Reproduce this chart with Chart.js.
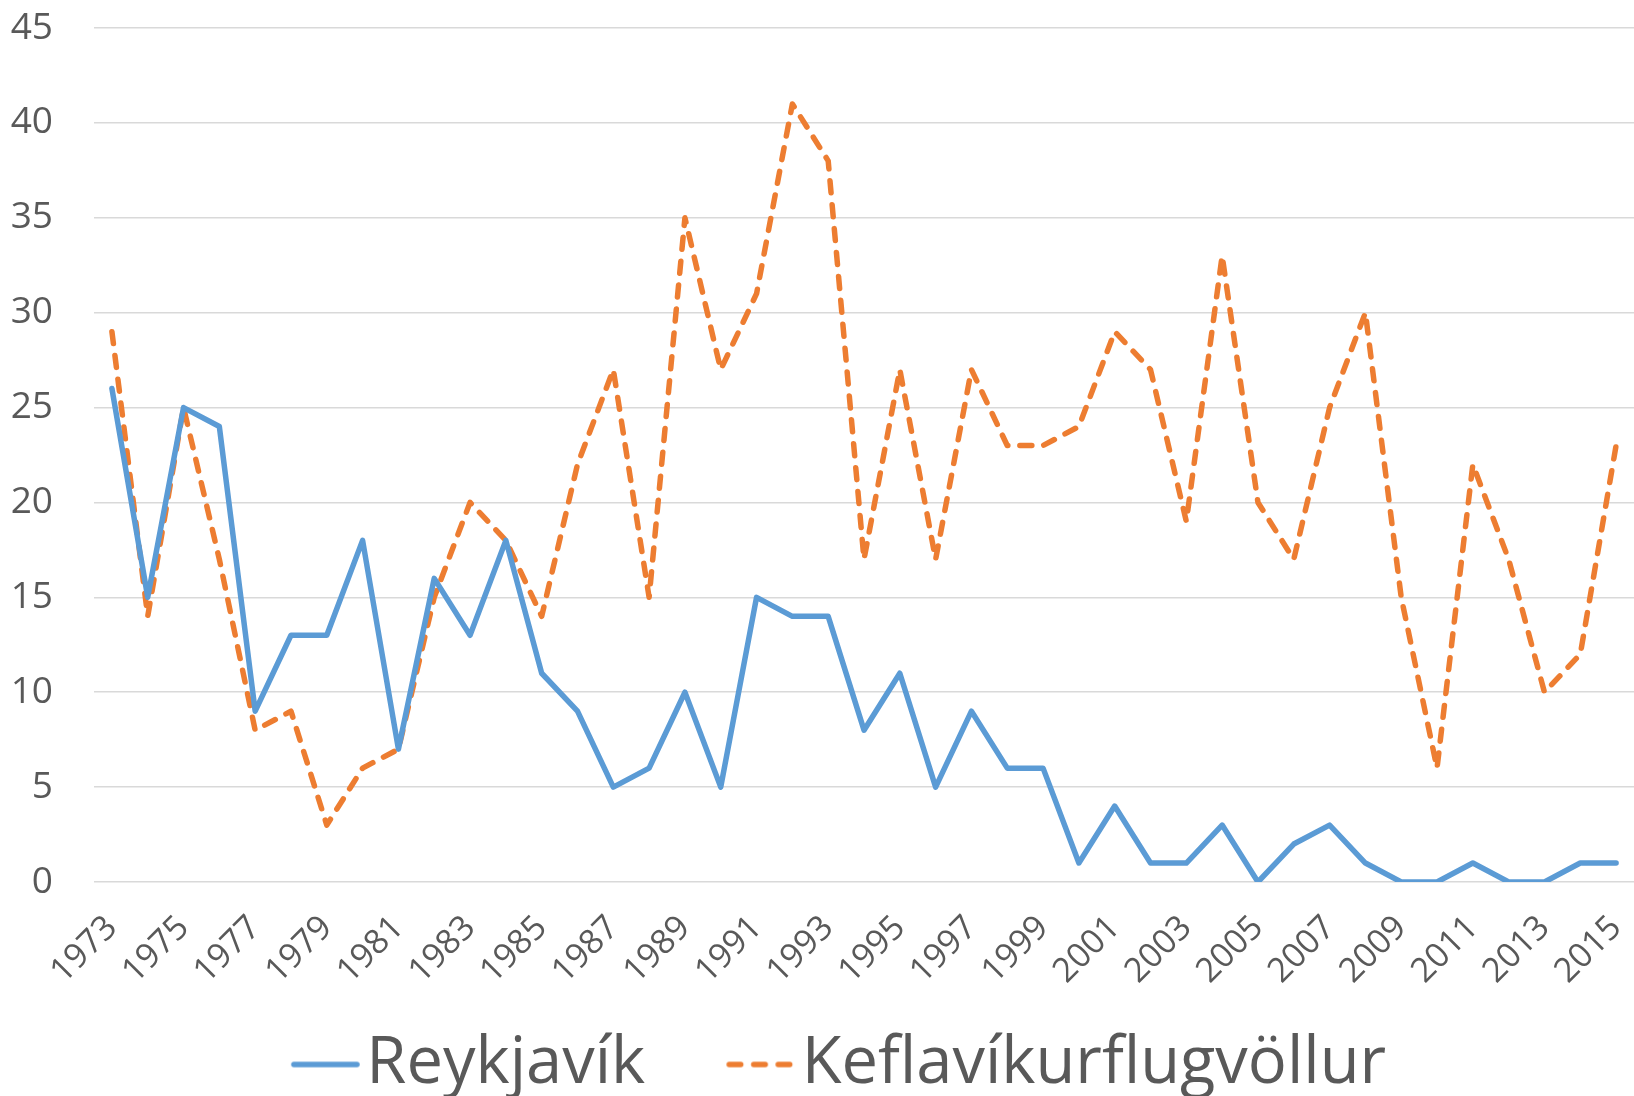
<!DOCTYPE html>
<html>
<head>
<meta charset="utf-8">
<script src="https://cdn.jsdelivr.net/npm/chart.js@4/dist/chart.umd.min.js"></script>
<style>
  html, body { margin: 0; padding: 0; background: #ffffff; }
  #wrap { width: 1634px; height: 1096px; position: relative; }
</style>
</head>
<body>
<div id="wrap"><canvas id="c" width="1634" height="1096"></canvas></div>
<script>
const years = ['1973','1974','1975','1976','1977','1978','1979','1980','1981','1982',
               '1983','1984','1985','1986','1987','1988','1989','1990','1991','1992',
               '1993','1994','1995','1996','1997','1998','1999','2000','2001','2002',
               '2003','2004','2005','2006','2007','2008','2009','2010','2011','2012',
               '2013','2014','2015'];
const reykjavik = [26,15,25,24,9,13,13,18,7,16,
                   13,18,11,9,5,6,10,5,15,14,
                   14,8,11,5,9,6,6,1,4,1,
                   1,3,0,2,3,1,0,0,1,0,
                   0,1,1];
const keflavik = [29,14,25,17,8,9,3,6,7,15,
                  20,18,14,22,27,15,35,27,31,41,
                  38,17,27,17,27,23,23,24,29,27,
                  19,33,20,17,25,30,15,6,22,17,
                  10,12,23];
const shownYearLabels = ['1973','1975','1977','1979','1981','1983','1985','1987','1989','1991','1993',
                         '1995','1997','1999','2001','2003','2005','2007','2009','2011','2013','2015'];
const yTicks = [0,5,10,15,20,25,30,35,40,45];
const seriesNames = ['Reykjavík', 'Keflavíkurflugvöllur'];

const FONT = "'Open Sans', 'DejaVu Sans', sans-serif";
const TXT = '#595959';
const BLUE = '#5B9BD5';
const ORANGE = '#ED7D31';

// legend swatch: a short line drawn close to the legend text
function legendSwatch(color, dash) {
  const c = document.createElement('canvas');
  c.width = 116; c.height = 12;
  const g = c.getContext('2d');
  g.strokeStyle = color; g.lineWidth = 5.5; g.lineCap = 'round';
  g.setLineDash(dash);
  g.beginPath(); g.moveTo(50, 6); g.lineTo(113, 6); g.stroke();
  return c;
}

const adjustLayout = {
  id: 'adjustLayout',
  afterLayout(chart) {
    const lg = chart.legend;
    if (lg) { lg.top += 11; lg.bottom += 11; lg.left += 11; lg.right += 11; }
    const x = chart.scales.x;
    if (x) { x.bottom = chart.height; x.height = x.bottom - x.top; }
  }
};

new Chart(document.getElementById('c'), {
  type: 'line',
  data: {
    labels: years,
    datasets: [
      {
        label: seriesNames[0],
        data: reykjavik,
        borderColor: BLUE,
        backgroundColor: BLUE,
        borderWidth: 5.5,
        pointRadius: 0,
        pointStyle: legendSwatch(BLUE, []),
        tension: 0,
        borderJoinStyle: 'round',
        borderCapStyle: 'round'
      },
      {
        label: seriesNames[1],
        data: keflavik,
        borderColor: ORANGE,
        backgroundColor: ORANGE,
        borderWidth: 5.5,
        borderDash: [12, 12],
        pointRadius: 0,
        pointStyle: legendSwatch(ORANGE, [11.5, 13]),
        tension: 0,
        borderJoinStyle: 'round',
        borderCapStyle: 'round'
      }
    ]
  },
  options: {
    responsive: false,
    animation: false,
    layout: { autoPadding: false, padding: { top: 28, left: 0, right: 0, bottom: 0 } },
    plugins: {
      tooltip: { enabled: false },
      legend: {
        display: true,
        position: 'bottom',
        labels: {
          usePointStyle: true,
          pointStyleWidth: 64,
          boxHeight: 65,
          padding: 60,
          color: TXT,
          font: { family: FONT, size: 65 }
        }
      }
    },
    scales: {
      x: {
        offset: true,
        grid: { display: false, drawTicks: false },
        border: { display: false },
        ticks: {
          autoSkip: false,
          minRotation: 45,
          maxRotation: 45,
          padding: 26,
          color: TXT,
          font: { family: FONT, size: 34 },
          callback: function(v, i) {
            const lab = years[i];
            return shownYearLabels.includes(lab) ? lab : '';
          }
        },
        afterFit(s) { s.height = 79; s.paddingLeft = 0; s.paddingRight = 0; }
      },
      y: {
        min: 0,
        max: 45,
        afterBuildTicks(s) { s.ticks = yTicks.map(v => ({ value: v })); },
        grid: { color: '#D9D9D9', lineWidth: 1.5, drawTicks: true, tickLength: 41, tickColor: 'rgba(0,0,0,0)' },
        border: { display: false },
        ticks: {
          padding: 0,
          color: TXT,
          font: { family: FONT, size: 37 }
        },
        afterFit(s) { s.width = 94; s.paddingTop = 0; s.paddingBottom = 0; }
      }
    }
  },
  plugins: [adjustLayout]
});
</script>
</body>
</html>
